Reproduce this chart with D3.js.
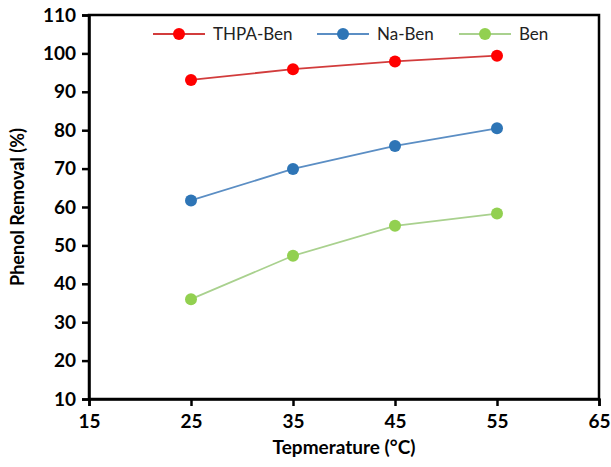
<!DOCTYPE html>
<html>
<head>
<meta charset="utf-8">
<script src="https://cdn.jsdelivr.net/npm/d3@7"></script>
<style>
  body { margin: 0; background: #fff; }
  text { font-family: Lato, "Open Sans", sans-serif; }
</style>
</head>
<body>
<div id="chart"></div>
<script>
var width = 611,
    height = 467;

var margin = { top: 15, right: 12, bottom: 68, left: 89 };

// data
var temperatures = [25, 35, 45, 55];
var thpaBen = [93.1, 95.9, 97.9, 99.4];
var naBen = [61.7, 69.9, 75.9, 80.5];
var ben = [36.0, 47.3, 55.1, 58.3];
var seriesNames = ['THPA-Ben', 'Na-Ben', 'Ben'];
var xTicks = [15, 25, 35, 45, 55, 65];
var yTicks = [10, 20, 30, 40, 50, 60, 70, 80, 90, 100, 110];

var series = [
  { name: seriesNames[0], values: thpaBen, line: '#d23c3c', dot: '#ff0000' },
  { name: seriesNames[1], values: naBen, line: '#5b8ec4', dot: '#2e75b6' },
  { name: seriesNames[2], values: ben, line: '#a9d18e', dot: '#92d050' }
];

var svg = d3.select('#chart').append('svg')
  .attr('width', width)
  .attr('height', height);

var x = d3.scaleLinear().domain([15, 65]).range([margin.left, width - margin.right]);
var y = d3.scaleLinear().domain([10, 110]).range([height - margin.bottom, margin.top]);

// frame
svg.append('rect')
  .attr('x', x(15)).attr('y', y(110))
  .attr('width', x(65) - x(15)).attr('height', y(10) - y(110))
  .attr('fill', 'none').attr('stroke', '#000').attr('stroke-width', 2.5);

var xAxis = svg.append('g')
  .attr('transform', 'translate(0,' + y(10) + ')')
  .call(d3.axisBottom(x).tickValues(xTicks).tickSize(7).tickPadding(9));
var yAxis = svg.append('g')
  .attr('transform', 'translate(' + x(15) + ',0)')
  .call(d3.axisLeft(y).tickValues(yTicks).tickSize(7).tickPadding(6));

[xAxis, yAxis].forEach(function(g) {
  g.select('.domain').attr('stroke-width', 2.5);
  g.selectAll('.tick line').attr('stroke-width', 2.5);
  g.selectAll('.tick text')
    .style('font-size', '19px')
    .style('font-weight', 'bold')
    .attr('fill', '#000');
});

var line = d3.line()
  .x(function(d, i) { return x(temperatures[i]); })
  .y(function(d) { return y(d); });

series.forEach(function(s) {
  svg.append('path')
    .datum(s.values)
    .attr('d', line)
    .attr('fill', 'none')
    .attr('stroke', s.line)
    .attr('stroke-width', 1.8);
  svg.selectAll(null)
    .data(s.values)
    .enter().append('circle')
    .attr('cx', function(d, i) { return x(temperatures[i]); })
    .attr('cy', function(d) { return y(d); })
    .attr('r', 6)
    .attr('fill', s.dot);
});

// legend
var legendX = [153, 317, 459];
series.forEach(function(s, i) {
  var g = svg.append('g').attr('transform', 'translate(' + legendX[i] + ',34)');
  g.append('line').attr('x1', 0).attr('x2', 52)
    .attr('stroke', s.line).attr('stroke-width', 1.8);
  g.append('circle').attr('cx', 26).attr('r', 6).attr('fill', s.dot);
  g.append('text').attr('x', 60).attr('y', 6)
    .style('font-size', '17px').attr('fill', '#222')
    .text(s.name);
});

svg.append('text')
  .attr('x', (x(15) + x(65)) / 2)
  .attr('y', 454)
  .attr('text-anchor', 'middle')
  .style('font-size', '19px').style('font-weight', 'bold')
  .text('Tepmerature (°C)');

svg.append('text')
  .attr('transform', 'translate(24,' + ((y(10) + y(110)) / 2) + ') rotate(-90)')
  .attr('text-anchor', 'middle')
  .style('font-size', '18px').style('font-weight', 'bold')
  .text('Phenol Removal (%)');
</script>
</body>
</html>
